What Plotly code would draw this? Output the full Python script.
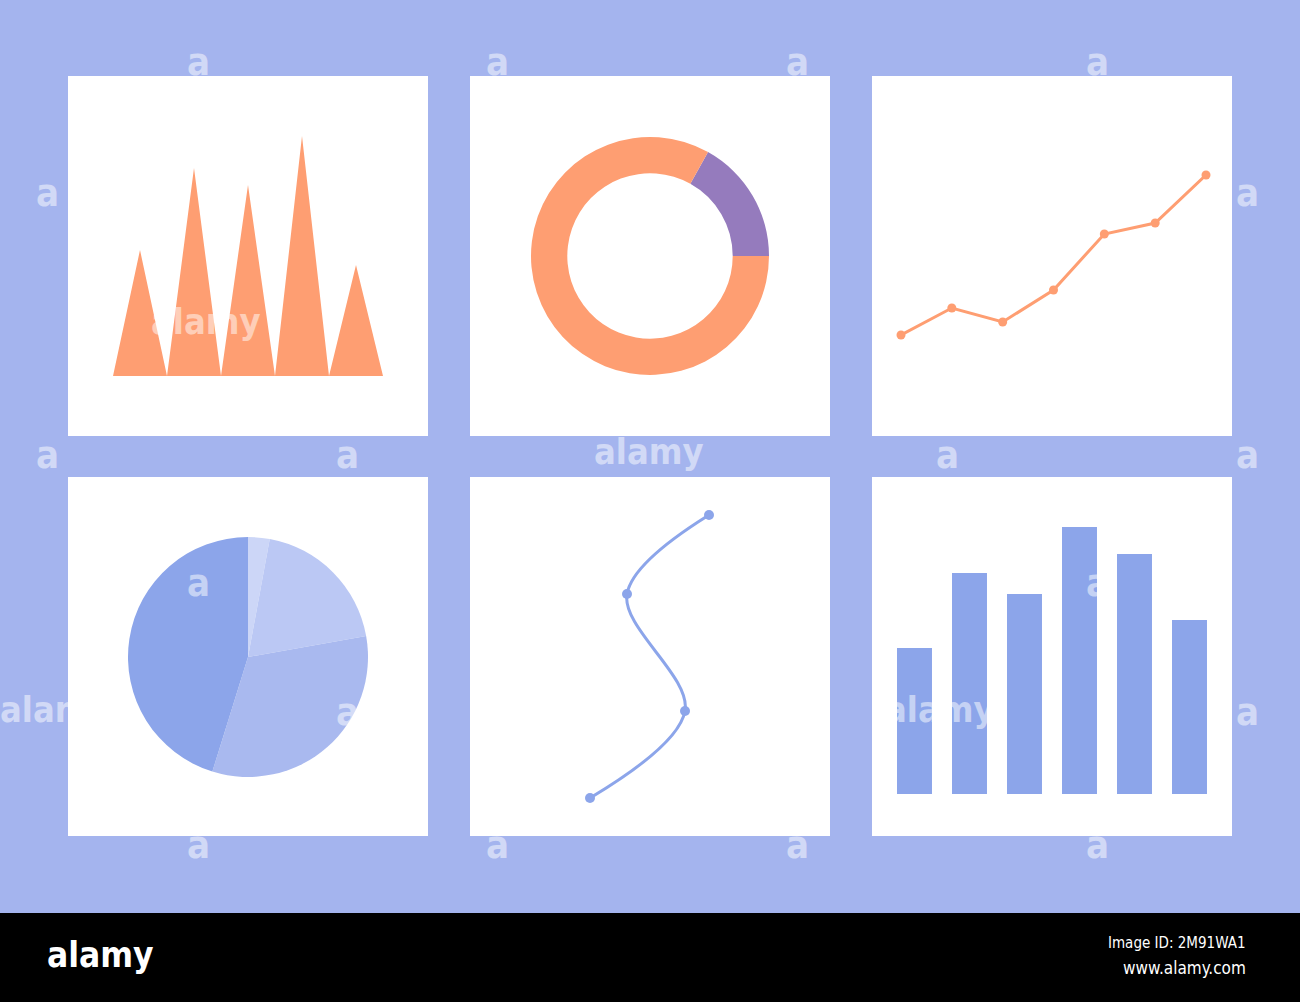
import plotly.graph_objects as go

W, H = 1300, 1002

# ---------------- data ----------------
spike_values = [5.25, 8.67, 7.96, 10.0, 4.63]          # triangle "spike" chart
donut_labels = ["B", "A"]
donut_values = [16.9, 83.1]
line_values = [65, 92, 78, 110, 166, 177, 225]        # orange line chart
pie_labels = ["P1", "P2", "P3", "P4"]
pie_values = [2.9, 19.3, 32.6, 45.2]
curve_x = [0, 95, 37, 119]                              # S curve points
curve_y = [0, 87, 204, 283]
bar_values = [146, 221, 200, 267, 240, 174]

# ---------------- style ----------------
BG = "#A4B4EE"
ORANGE = "#FE9E72"
PURPLE = "#957BBD"
BLUE = "#8CA5EA"
PIE_COLORS = ["#CCD6F7", "#BBC8F4", "#A9B9EF", "#8CA5EA"]
WM = "rgba(255,255,255,0.5)"
NARROW = "DejaVu Sans Condensed, Liberation Sans Narrow, Arial Narrow, sans-serif"


def px(x):
    return x / W


def py(y):
    return 1 - y / H


def dom_x(a, b):
    return [px(a), px(b)]


def dom_y(top, bottom):
    return [py(bottom), py(top)]


fig = go.Figure()

# 1) spike chart
tx, ty = [], []
for i, v in enumerate(spike_values):
    tx += [i, i + 0.5, i + 1, i, None]
    ty += [0, v, 0, 0, None]
fig.add_trace(go.Scatter(x=tx, y=ty, fill="toself", fillcolor=ORANGE, mode="lines",
                         line=dict(width=0, color=ORANGE), xaxis="x", yaxis="y",
                         hoverinfo="skip"))

# 2) donut
fig.add_trace(go.Pie(labels=donut_labels, values=donut_values, hole=0.695, sort=False,
                     direction="clockwise", rotation=29.2,
                     marker=dict(colors=[PURPLE, ORANGE], line=dict(width=0)),
                     textinfo="none", domain=dict(x=dom_x(531, 769), y=dom_y(136, 376))))

# 3) line chart
fig.add_trace(go.Scatter(x=list(range(len(line_values))), y=line_values, mode="lines+markers",
                         line=dict(color=ORANGE, width=3), marker=dict(color=ORANGE, size=9),
                         cliponaxis=False, xaxis="x3", yaxis="y3"))

# 4) pie
fig.add_trace(go.Pie(labels=pie_labels, values=pie_values, sort=False,
                     direction="clockwise", rotation=0,
                     marker=dict(colors=PIE_COLORS, line=dict(width=0)),
                     textinfo="none", domain=dict(x=dom_x(128, 368), y=dom_y(537, 777))))

# 5) S curve
fig.add_trace(go.Scatter(x=curve_x, y=curve_y, mode="lines+markers",
                         line=dict(color=BLUE, width=3, shape="spline", smoothing=1.0),
                         marker=dict(color=BLUE, size=10), cliponaxis=False,
                         xaxis="x5", yaxis="y5"))

# 6) bars
fig.add_trace(go.Bar(x=list(range(len(bar_values))), y=bar_values, marker=dict(color=BLUE, line=dict(width=0)),
                     xaxis="x6", yaxis="y6"))

ax = dict(visible=False, fixedrange=True, showgrid=False, zeroline=False)

fig.update_layout(
    width=W, height=H,
    margin=dict(l=0, r=0, t=0, b=0),
    paper_bgcolor=BG, plot_bgcolor="rgba(0,0,0,0)",
    showlegend=False, bargap=0.364,
    xaxis=dict(ax, domain=dom_x(113, 383), range=[0, 5]),
    yaxis=dict(ax, domain=dom_y(136, 376), range=[0, 10]),
    xaxis3=dict(ax, domain=dom_x(901, 1206), range=[0, 6]),
    yaxis3=dict(ax, domain=dom_y(175, 335), range=[65, 225]),
    xaxis5=dict(ax, domain=dom_x(590, 709), range=[0, 119]),
    yaxis5=dict(ax, domain=dom_y(515, 798), range=[0, 283]),
    xaxis6=dict(ax, domain=dom_x(887, 1217), range=[-0.5, 5.5]),
    yaxis6=dict(ax, domain=dom_y(527, 794), range=[0, 267]),
)

# white panels
shapes = []
for (x0, x1) in [(68, 428), (470, 830), (872, 1232)]:
    for (y0, y1) in [(76, 436), (477, 836)]:
        shapes.append(dict(type="rect", xref="paper", yref="paper", x0=px(x0), x1=px(x1),
                           y0=py(y1), y1=py(y0), fillcolor="white", line=dict(width=0), layer="below"))
# black footer band
shapes.append(dict(type="rect", xref="paper", yref="paper", x0=0, x1=1, y0=0, y1=py(913),
                   fillcolor="black", line=dict(width=0), layer="above"))
fig.update_layout(shapes=shapes)

ann = []
# watermarks
wm_small = [(198, 62), (497, 62), (797, 62), (1097, 62),
            (47, 193), (1247, 193),
            (47, 455), (347, 455), (947, 455), (1247, 455),
            (198, 583), (1097, 583),
            (347, 712), (1247, 712),
            (198, 845), (497, 845), (797, 845), (1097, 845)]
for (x, y) in wm_small:
    ann.append(dict(x=px(x), y=py(y), xref="paper", yref="paper", text="<b>a</b>", showarrow=False,
                    font=dict(family=NARROW, size=38, color=WM), xanchor="center", yanchor="middle"))
wm_big = [(206, 321), (649, 452), (55, 709), (940, 709)]
for (x, y) in wm_big:
    ann.append(dict(x=px(x), y=py(y), xref="paper", yref="paper", text="<b>alamy</b>", showarrow=False,
                    font=dict(family=NARROW, size=36, color=WM), xanchor="center", yanchor="middle"))
# footer texts
ann.append(dict(x=px(101), y=py(955), xref="paper", yref="paper", text="<b>alamy</b>", showarrow=False,
                font=dict(family=NARROW, size=35, color="white"), xanchor="center", yanchor="middle"))
ann.append(dict(x=px(1248), y=py(943), xref="paper", yref="paper", text="Image ID: 2M91WA1", showarrow=False,
                font=dict(family=NARROW, size=15, color="white"), xanchor="right", yanchor="middle"))
ann.append(dict(x=px(1248), y=py(968), xref="paper", yref="paper", text="www.alamy.com", showarrow=False,
                font=dict(family=NARROW, size=17, color="white"), xanchor="right", yanchor="middle"))
fig.update_layout(annotations=ann)

fig.write_html("out.html", config=dict(displayModeBar=False, staticPlot=True),
               post_script="document.body.style.margin='0';document.body.style.overflow='hidden';")
